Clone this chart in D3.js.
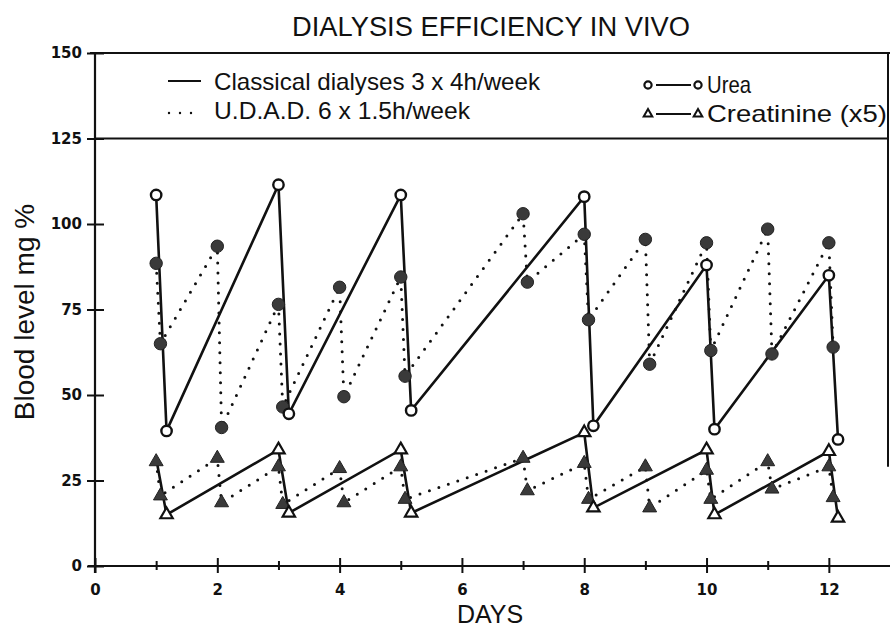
<!DOCTYPE html>
<html>
<head>
<meta charset="utf-8">
<script src="https://cdn.jsdelivr.net/npm/d3@7"></script>
<style>
  html, body { margin: 0; padding: 0; background: #fff; }
  svg { display: block; }
  text { font-family: "Liberation Sans", Arial, sans-serif; fill: #111; }
</style>
</head>
<body>
<svg id="chart" width="890" height="629"></svg>
<script>
// ---- data ----
const title = "DIALYSIS EFFICIENCY IN VIVO";
const xLabel = "DAYS";
const yLabel = "Blood level mg %";
const yTicks = [0, 25, 50, 75, 100, 125, 150];
const xTicks = [0, 1, 2, 3, 4, 5, 6, 7, 8, 9, 10, 11, 12];

// Classical dialyses 3 x 4h/week (solid line, open markers)
const classicalDays = [1, 1.17, 3, 3.17, 5, 5.17, 8, 8.15, 10, 10.13, 12, 12.15];
const classicalUrea = [108.5, 39.5, 111.5, 44.5, 108.5, 45.5, 108, 41, 88, 40, 85, 37];
const classicalCreat = [31.5, 15, 34, 15.5, 34, 15.5, 39, 17, 34, 15, 33.5, 14];

// U.D.A.D. 6 x 1.5h/week (dotted line, filled markers)
const udadDays = [1, 1.07, 2, 2.07, 3, 3.07, 4, 4.07, 5, 5.07, 7, 7.07, 8, 8.07, 9, 9.07, 10, 10.07, 11, 11.07, 12, 12.07];
const udadUrea = [88.5, 65, 93.5, 40.5, 76.5, 46.5, 81.5, 49.5, 84.5, 55.5, 103, 83, 97, 72, 95.5, 59, 94.5, 63, 98.5, 62, 94.5, 64];
const udadCreat = [30.5, 20.5, 31.5, 18.5, 29, 18, 28.5, 18.5, 29, 19.5, 31.5, 22, 30, 19.5, 29, 17, 28, 19.5, 30.5, 22.5, 29, 20];

const legendLines = ["Classical dialyses 3 x 4h/week", "U.D.A.D.  6 x 1.5h/week"];
const legendMarkers = ["Urea", "Creatinine (x5)"];

// ---- layout ----
const svg = d3.select("#chart");
const x = d3.scaleLinear().domain([0, 13]).range([95, 890]);
const y = d3.scaleLinear().domain([0, 150]).range([566, 53]);
const ink = "#111";
const fillGrey = "#3a3a3a";

function tickStyle(sel) {
  sel.style("font-family", "'DejaVu Sans', 'Liberation Sans', sans-serif")
    .style("font-weight", "bold").style("font-size", "15px").style("fill", ink);
}

// title
svg.append("text").attr("x", 491).attr("y", 36).attr("text-anchor", "middle")
  .style("font-size", "27px").attr("textLength", 398).attr("lengthAdjust", "spacingAndGlyphs")
  .text(title);

// legend frame (top line at 150, bottom line at 125, right edge)
svg.append("line").attr("x1", 90).attr("x2", 890).attr("y1", y(150)).attr("y2", y(150))
  .attr("stroke", ink).attr("stroke-width", 2.2);
svg.append("line").attr("x1", 95).attr("x2", 888).attr("y1", y(125)).attr("y2", y(125))
  .attr("stroke", ink).attr("stroke-width", 2);
svg.append("line").attr("x1", 888).attr("x2", 888).attr("y1", y(150)).attr("y2", y(29))
  .attr("stroke", ink).attr("stroke-width", 2);

// axes
const yAxis = svg.append("g").attr("transform", `translate(${x(0)},0)`)
  .call(d3.axisLeft(y).tickValues(yTicks).tickSizeInner(8).tickSizeOuter(0).tickPadding(5));
yAxis.select(".domain").remove();
yAxis.selectAll(".tick line").attr("x1", 9).attr("stroke", ink).attr("stroke-width", 2);
yAxis.selectAll(".tick text").call(tickStyle);
svg.append("line").attr("x1", x(0)).attr("x2", x(0)).attr("y1", y(150)).attr("y2", 573)
  .attr("stroke", ink).attr("stroke-width", 2.2);

const xAxis = svg.append("g").attr("transform", `translate(0,${y(0)})`)
  .call(d3.axisBottom(x).tickValues(xTicks).tickFormat(d => d % 2 === 0 ? d : "")
    .tickSizeInner(7).tickSizeOuter(0).tickPadding(11));
xAxis.select(".domain").remove();
xAxis.selectAll(".tick line")
  .attr("y1", d => d % 2 === 0 ? -8 : -5)
  .attr("y2", d => d % 2 === 0 ? 7 : 4)
  .attr("stroke", ink).attr("stroke-width", 2);
xAxis.selectAll(".tick text").call(tickStyle);
svg.append("line").attr("x1", 88).attr("x2", 890).attr("y1", y(0)).attr("y2", y(0))
  .attr("stroke", ink).attr("stroke-width", 2.2);

// axis titles
svg.append("text").attr("x", 490).attr("y", 623).attr("text-anchor", "middle")
  .style("font-size", "25px").text(xLabel);
svg.append("text").attr("transform", "translate(34,312) rotate(-90)").attr("text-anchor", "middle")
  .style("font-size", "28px").text(yLabel);

// series lines
const lineGen = d3.line().x(d => x(d[0])).y(d => y(d[1]));
function series(days, vals) { return days.map((d, i) => [d, vals[i]]); }
const cu = series(classicalDays, classicalUrea);
const cc = series(classicalDays, classicalCreat);
const uu = series(udadDays, udadUrea);
const uc = series(udadDays, udadCreat);

[uu, uc].forEach(s => svg.append("path").attr("d", lineGen(s)).attr("fill", "none")
  .attr("stroke", ink).attr("stroke-width", 3).attr("stroke-linecap", "round")
  .attr("stroke-dasharray", "0 10"));
[cu, cc].forEach(s => svg.append("path").attr("d", lineGen(s)).attr("fill", "none")
  .attr("stroke", ink).attr("stroke-width", 2.6));

// markers
const triOpen = d3.symbol().type(d3.symbolTriangle).size(66);
const triFill = d3.symbol().type(d3.symbolTriangle).size(84);

svg.append("g").selectAll("circle").data(uu).join("circle")
  .attr("cx", d => x(d[0])).attr("cy", d => y(d[1])).attr("r", 6.2)
  .attr("fill", fillGrey).attr("stroke", "#222").attr("stroke-width", 1);
svg.append("g").selectAll("path").data(uc).join("path")
  .attr("transform", d => `translate(${x(d[0])},${y(d[1])})`).attr("d", triFill)
  .attr("fill", fillGrey).attr("stroke", "#222").attr("stroke-width", 1);
svg.append("g").selectAll("circle").data(cu).join("circle")
  .attr("cx", d => x(d[0])).attr("cy", d => y(d[1])).attr("r", 5.2)
  .attr("fill", "#fff").attr("stroke", ink).attr("stroke-width", 2.4);
svg.append("g").selectAll("path").data(cc.slice(1)).join("path")
  .attr("transform", d => `translate(${x(d[0])},${y(d[1])})`).attr("d", triOpen)
  .attr("fill", "#fff").attr("stroke", ink).attr("stroke-width", 2.2);

// legend
const lg = svg.append("g");
lg.append("line").attr("x1", 168).attr("x2", 201).attr("y1", 81).attr("y2", 81)
  .attr("stroke", ink).attr("stroke-width", 2);
lg.append("line").attr("x1", 169).attr("x2", 196).attr("y1", 113).attr("y2", 113)
  .attr("stroke", ink).attr("stroke-width", 2.4).attr("stroke-linecap", "round")
  .attr("stroke-dasharray", "0 11");
lg.append("text").attr("x", 214).attr("y", 90).style("font-size", "24px")
  .attr("textLength", 326).attr("lengthAdjust", "spacingAndGlyphs").text(legendLines[0]);
lg.append("text").attr("x", 214).attr("y", 119).style("font-size", "24px")
  .attr("textLength", 256).attr("lengthAdjust", "spacingAndGlyphs").text(legendLines[1]);

const mk = [{cy: 85, type: "circle"}, {cy: 114, type: "tri"}];
mk.forEach((m, i) => {
  [648, 698].forEach(cx => {
    if (m.type === "circle") {
      lg.append("circle").attr("cx", cx).attr("cy", m.cy).attr("r", 3.6)
        .attr("fill", "#fff").attr("stroke", ink).attr("stroke-width", 2.2);
    } else {
      lg.append("path").attr("transform", `translate(${cx},${m.cy})`)
        .attr("d", d3.symbol().type(d3.symbolTriangle).size(32))
        .attr("fill", "#fff").attr("stroke", ink).attr("stroke-width", 2);
    }
  });
  lg.append("line").attr("x1", 656).attr("x2", 691).attr("y1", m.cy).attr("y2", m.cy)
    .attr("stroke", ink).attr("stroke-width", 2);
  lg.append("text").attr("x", 707).attr("y", m.cy + 8).style("font-size", "24px")
    .attr("textLength", i === 0 ? 44 : 180).attr("lengthAdjust", "spacingAndGlyphs")
    .text(legendMarkers[i]);
});
</script>
</body>
</html>
